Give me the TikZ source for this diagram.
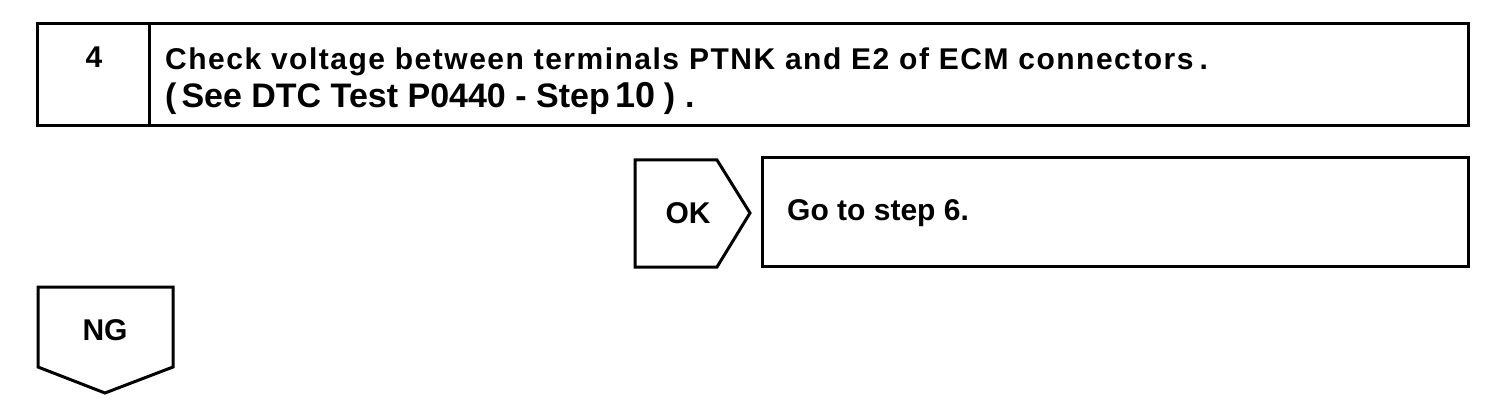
\documentclass[tikz,border=0pt]{standalone}
\usepackage{fontspec}
\setmainfont{Liberation Sans}
\newfontfamily\widefont[LetterSpace=5]{Liberation Sans}
\tikzset{
  frame/.style={draw=black, line width=3pt, line join=miter},
  lbl/.style={font=\fontsize{30}{36}\selectfont\bfseries, inner sep=0pt},
  widelbl/.style={font=\fontsize{30}{36}\selectfont\widefont\bfseries, inner sep=0pt},
  biglbl/.style={font=\fontsize{34}{40}\selectfont\bfseries, inner sep=0pt},
}
\begin{document}
\begin{tikzpicture}[x=1pt,y=1pt]
\useasboundingbox (0,0) rectangle (1504,402);
% top box
\draw[frame] (37,378) rectangle (1468,276);
\draw[frame] (149,378) -- (149,276);
\node[lbl] (num) at (94,345) {4};
\node[widelbl, anchor=base west] (l1) at (165,332) {Check voltage between terminals PTNK and E2 of ECM connectors\hspace{6pt}.};
\node[biglbl, anchor=base west] (l2) at (165,294) {(\hspace{5pt}See DTC Test P0440 - Step\hspace{6pt}{\fontsize{36}{40}\selectfont 10}\hspace{8pt})\hspace{10pt}.};
% OK
\draw[frame] (635,242) -- (717,242) -- (750,189) -- (717,135) -- (635,135) -- cycle;
\node[lbl] (ok) at (688,189) {OK};
\draw[frame] (762,244) rectangle (1468,136);
\node[lbl, anchor=west] (go) at (787,189) {Go to step 6.};
% NG
\draw[frame] (38,115) -- (173,115) -- (173,35) -- (105,9) -- (38,35) -- cycle;
\node[lbl] (ng) at (105,72) {NG};
\end{tikzpicture}
\end{document}
